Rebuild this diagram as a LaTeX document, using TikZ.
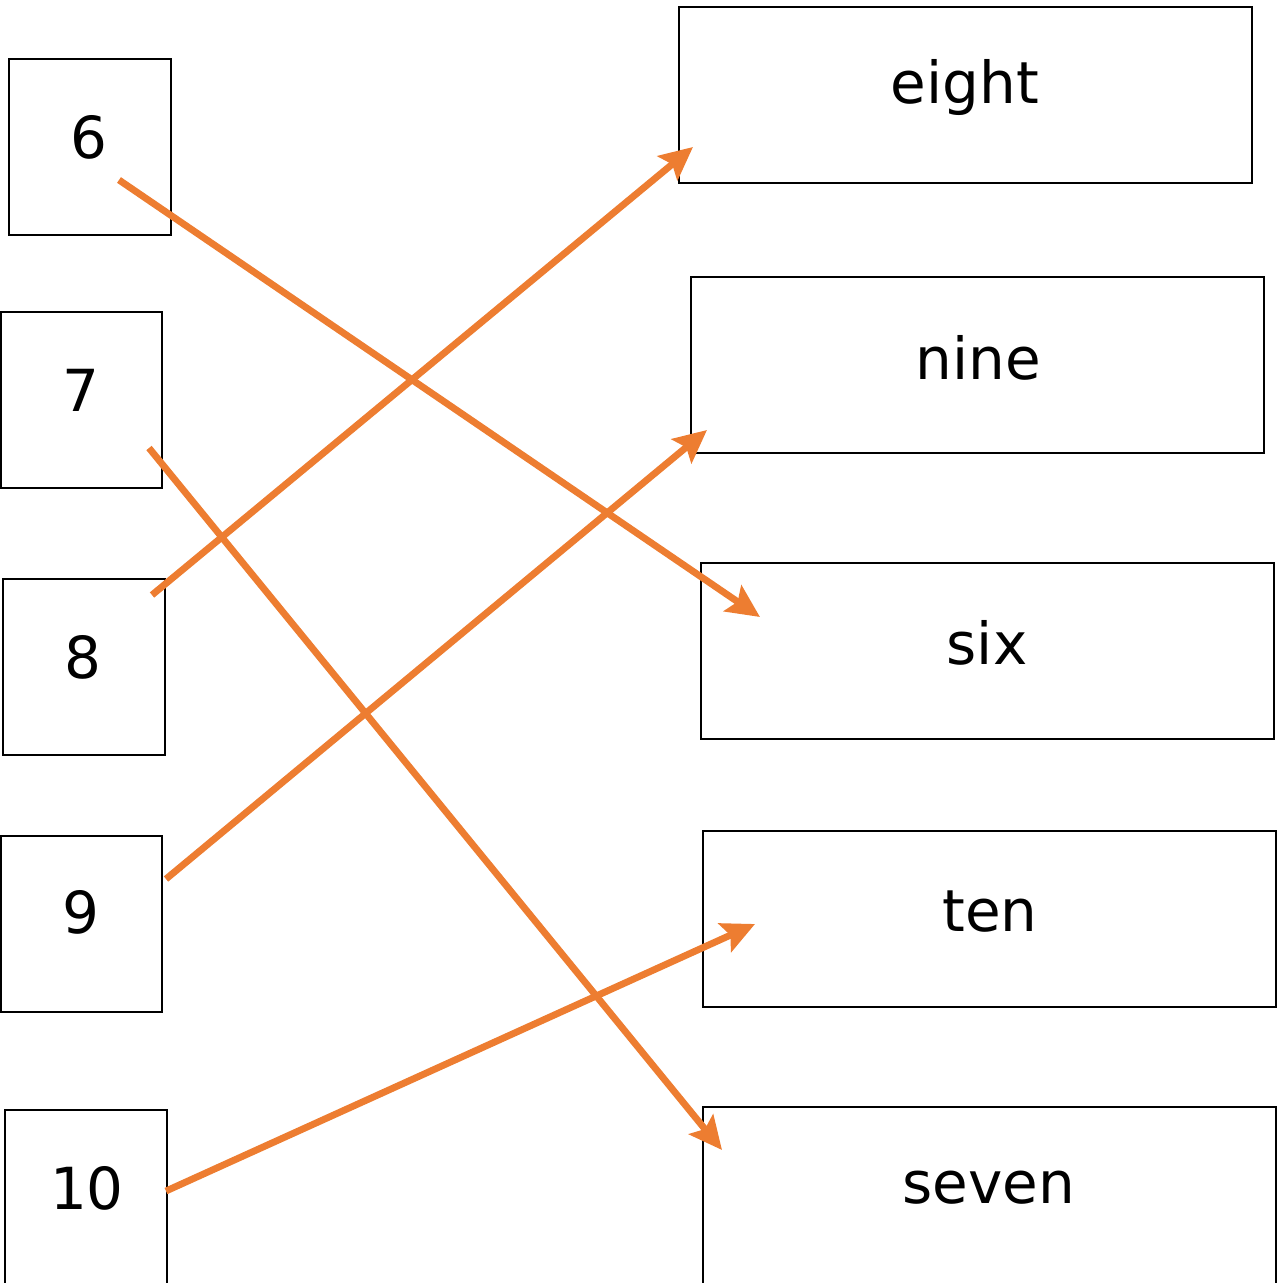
\documentclass[tikz,border=0pt]{standalone}
\usepackage{fontspec}
\setmainfont{DejaVu Sans}
\usetikzlibrary{arrows.meta}
\definecolor{arr}{HTML}{ED7D31}
\begin{document}
\begin{tikzpicture}[x=0.02cm,y=-0.02cm,
  box/.style={draw=black,line width=1.5pt},
  lbl/.style={font=\fontsize{33}{38}\selectfont,inner sep=0pt},
  conn/.style={draw=arr,line width=3.9pt,-{Stealth[length=0.66cm,width=0.62cm,inset=0.12cm]}}]
\useasboundingbox (0,0) rectangle (1283,1283);
% left boxes
\draw[box] (9,59) rectangle (171,235);
\draw[box] (1,312) rectangle (162,488);
\draw[box] (3,579) rectangle (165,755);
\draw[box] (1,836) rectangle (162,1012);
\draw[box] (5,1290) -- (5,1110) -- (167,1110) -- (167,1290);
% right boxes
\draw[box] (679,7) rectangle (1252,183);
\draw[box] (691,277) rectangle (1264,453);
\draw[box] (701,563) rectangle (1274,739);
\draw[box] (703,831) rectangle (1276,1007);
\draw[box] (703,1290) -- (703,1107) -- (1276,1107) -- (1276,1290);
% labels
\node[lbl] (n6) at (89,137) {6};
\node[lbl] (n7) at (81,390) {7};
\node[lbl] (n8) at (83,657) {8};
\node[lbl] (n9) at (81,912) {9};
\node[lbl] (n10) at (87,1188) {10};
\node[lbl] (weight) at (965,88) {eight};
\node[lbl] (wnine) at (978,358) {nine};
\node[lbl] (wsix) at (987,643) {six};
\node[lbl] (wten) at (990,912) {ten};
\node[lbl] (wseven) at (989,1188) {seven};
% connector ends
\coordinate (s6) at (119,180);
\coordinate (e6) at (760,617);
\coordinate (s7) at (149,448);
\coordinate (e7) at (722,1150);
\coordinate (s8) at (152,595);
\coordinate (e8) at (693,147);
\coordinate (s9) at (166,879);
\coordinate (e9) at (707,430);
\coordinate (s10) at (166,1191);
\coordinate (e10) at (755,924);
\draw[conn] (s6) -- (e6);
\draw[conn] (s7) -- (e7);
\draw[conn] (s8) -- (e8);
\draw[conn] (s9) -- (e9);
\draw[conn] (s10) -- (e10);
\end{tikzpicture}
\end{document}
